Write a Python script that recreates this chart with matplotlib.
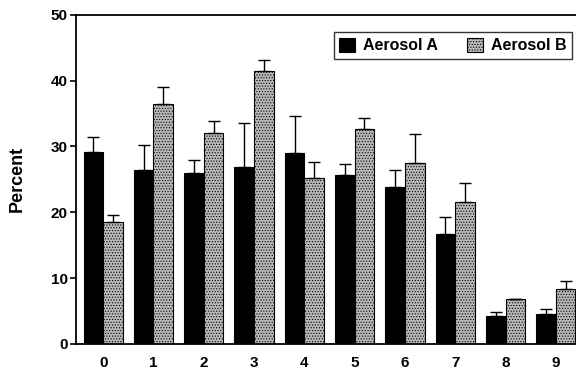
import matplotlib
matplotlib.use('Agg')
import matplotlib.pyplot as plt
import numpy as np

# data
groups = ['0', '1', '2', '3', '4', '5', '6', '7', '8', '9']
aerosol_a = [29.1, 26.5, 26.0, 26.9, 29.0, 25.6, 23.9, 16.7, 4.3, 4.5]
aerosol_a_err = [2.3, 3.7, 1.9, 6.6, 5.6, 1.7, 2.5, 2.6, 0.5, 0.8]
aerosol_b = [18.6, 36.4, 32.0, 41.5, 25.2, 32.7, 27.5, 21.5, 6.8, 8.4]
aerosol_b_err = [1.0, 2.7, 1.9, 1.7, 2.5, 1.6, 4.4, 2.9, 0.1, 1.2]

plt.rcParams['font.family'] = ['Liberation Sans', 'DejaVu Sans']
plt.rcParams['font.weight'] = 'bold'
plt.rcParams['hatch.color'] = '#6a6a6a'
plt.rcParams['hatch.linewidth'] = 0.5

fig = plt.figure(figsize=(5.76, 3.71), dpi=100)
ax = fig.add_axes([0.132, 0.073, 0.868, 0.887])

x = np.arange(len(groups))
width = 0.39
ax.bar(x - width / 2, aerosol_a, width, color='black', edgecolor='black',
       linewidth=0.8, label='Aerosol A')
ax.bar(x + width / 2, aerosol_b, width, color='#b8b8b8', edgecolor='black',
       linewidth=0.8, hatch='......', label='Aerosol B')
ax.errorbar(x - width / 2, aerosol_a, yerr=[np.zeros(len(x)), aerosol_a_err],
            fmt='none', ecolor='black', elinewidth=1.0, capsize=4, capthick=1.0)
ax.errorbar(x + width / 2, aerosol_b, yerr=[np.zeros(len(x)), aerosol_b_err],
            fmt='none', ecolor='black', elinewidth=1.0, capsize=4, capthick=1.0)

ax.set_xlim(-0.54, 9.40)
ax.set_ylim(0, 50)
ax.set_xticks(x)
ax.set_xticklabels(groups)
ax.set_yticks([0, 10, 20, 30, 40, 50])
ax.tick_params(axis='x', length=0, pad=9, labelsize=11)
ax.tick_params(axis='y', direction='out', length=4, width=1.2, pad=2,
               labelsize=11)
for lab in ax.get_xticklabels() + ax.get_yticklabels():
    lab.set_fontweight('bold')
ax.spines['right'].set_visible(False)
for side in ['left', 'top', 'bottom']:
    ax.spines[side].set_linewidth(1.3)
ax.set_ylabel('Percent', fontsize=13, fontweight='bold', labelpad=18)

leg = ax.legend(loc='upper right', bbox_to_anchor=(0.992, 0.948), ncol=2,
                frameon=True, fancybox=False, borderaxespad=0,
                prop={'size': 11.5, 'weight': 'bold'}, handlelength=1.0,
                handleheight=1.0, columnspacing=1.8, handletextpad=0.5,
                borderpad=0.35)
leg.get_frame().set_edgecolor('black')
leg.get_frame().set_linewidth(1.0)

plt.savefig('out.png', dpi=100)
